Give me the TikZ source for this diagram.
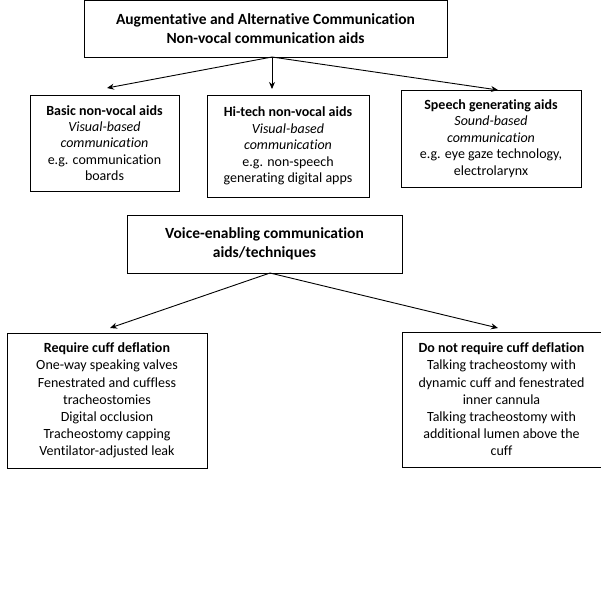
\documentclass[tikz,border=0pt]{standalone}
\usepackage{fontspec}
\setmainfont[Ligatures={NoCommon}]{Carlito}
\usetikzlibrary{arrows.meta}
\begin{document}
\begin{tikzpicture}[x=1pt,y=-1pt,
  box/.style={draw, line width=0.9pt, align=center, inner sep=0pt, font=\fontsize{14}{16.4}\selectfont},
  lowbox/.style={box, font=\fontsize{14}{17.2}\selectfont},
  head/.style={box, font=\fontsize{15.5}{19.5}\selectfont\bfseries},
  arr/.style={line width=0.9pt, -{Stealth[length=7pt,width=6pt]}}]
\useasboundingbox (0,0) rectangle (601,616);
\node[head, minimum width=363pt, minimum height=57pt] (top) at (265.5,28.5) {Augmentative and Alternative Communication\\Non-vocal communication aids};
\node[box, minimum width=149pt, minimum height=96pt] (basic) at (104.5,143) {\textbf{Basic non-vocal aids}\\\textit{Visual-based}\\\textit{communication}\\e.g. communication\\boards};
\node[box, minimum width=162pt, minimum height=102pt] (hitech) at (288,146) {\textbf{Hi-tech non-vocal aids}\\\textit{Visual-based}\\\textit{communication}\\e.g. non-speech\\generating digital apps};
\node[box, minimum width=180pt, minimum height=97pt] (speech) at (491,138.5) {\textbf{Speech generating aids}\\\textit{Sound-based}\\\textit{communication}\\e.g. eye gaze technology,\\electrolarynx};
\node[head, minimum width=275pt, minimum height=58pt] (voice) at (264.5,244) {Voice-enabling communication\\aids/techniques};
\node[lowbox, minimum width=200pt, minimum height=135pt] (req) at (107,400.5) {\textbf{Require cuff deflation}\\One-way speaking valves\\Fenestrated and cuffless\\tracheostomies\\Digital occlusion\\Tracheostomy capping\\Ventilator-adjusted leak};
\node[lowbox, minimum width=199pt, minimum height=135pt] (donot) at (501.5,399.5) {\textbf{Do not require cuff deflation}\\Talking tracheostomy with\\dynamic cuff and fenestrated\\inner cannula\\Talking tracheostomy with\\additional lumen above the\\cuff};
\coordinate (o1) at (272,57);
\draw[arr] (o1) -- (107,88);
\draw[arr] (o1) -- (272,89);
\draw[arr] (o1) -- (498,90);
\coordinate (o2) at (270,273);
\draw[arr] (o2) -- (110,328);
\draw[arr] (o2) -- (498,328);
\end{tikzpicture}
\end{document}
